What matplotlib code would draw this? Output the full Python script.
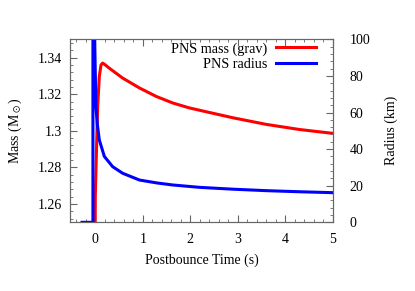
import matplotlib.pyplot as plt
from matplotlib.ticker import MultipleLocator

plt.rcParams['font.family'] = ['Liberation Serif', 'DejaVu Serif']
plt.rcParams['mathtext.fontset'] = 'stix'
plt.rcParams['font.size'] = 10

# PNS gravitational mass (Msun) vs postbounce time (s)
t_mass = [-0.3, -0.01, 0.0, 0.03, 0.05, 0.084, 0.12, 0.154, 0.2, 0.295, 0.576, 0.93,
          1.28, 1.63, 1.98, 2.37, 2.9, 3.6, 4.3, 5.0]
mass = [1.20, 1.20, 1.2645, 1.295, 1.3134, 1.3297, 1.336, 1.337, 1.3362, 1.3342,
        1.3288, 1.3234, 1.3188, 1.3152, 1.3125, 1.3102, 1.3071, 1.3035, 1.3007, 1.2986]

# PNS radius (km)
t_rad = [-0.28, -0.05, -0.05, -0.02, 0.0, 0.014, 0.04, 0.084, 0.19, 0.365, 0.576,
         0.93, 1.3, 1.63, 2.2, 2.9, 3.6, 4.3, 5.0]
radius = [0, 0, 150, 110, 81, 63, 54, 45, 36, 30.4, 26.8,
          23.1, 21.5, 20.4, 19.1, 18.1, 17.3, 16.7, 16.2]

fig = plt.figure(figsize=(4.15, 2.91), dpi=100)
ax = fig.add_axes([0.169, 0.236, 0.633, 0.629])
ax2 = ax.twinx()

l1, = ax.plot(t_mass, mass, color='#ff0000', lw=2.2, label='PNS mass (grav)')
l2, = ax2.plot(t_rad, radius, color='#0000ff', lw=2.2, label='PNS radius')

ax.set_xlim(-0.53, 5)
ax.set_ylim(1.25, 1.35)
ax2.set_ylim(0, 100)

ax.set_xticks([0, 1, 2, 3, 4, 5])
ax.set_yticks([1.26, 1.28, 1.3, 1.32, 1.34])
ax.set_yticklabels(['1.26', '1.28', '1.3', '1.32', '1.34'])
ax.xaxis.set_minor_locator(MultipleLocator(0.2))
ax.yaxis.set_minor_locator(MultipleLocator(0.004))
ax2.set_yticks([0, 20, 40, 60, 80, 100])
ax2.yaxis.set_minor_locator(MultipleLocator(4))

spine_col = '#666666'
for a in (ax, ax2):
    for s in a.spines.values():
        s.set_color(spine_col)
ax.tick_params(which='both', direction='in', top=True, right=False, color=spine_col)
ax.tick_params(which='major', length=5)
ax.tick_params(which='minor', length=2.5)
ax2.tick_params(which='both', direction='in', color=spine_col)
ax2.tick_params(which='major', length=5)
ax2.tick_params(which='minor', length=2.5)
ax.tick_params(axis='y', pad=6)
ax2.tick_params(axis='y', pad=12)
ax.tick_params(axis='x', pad=8)

ax.set_xlabel('Postbounce Time (s)', labelpad=5)
ax.set_ylabel(r'Mass (M$_\odot$)', labelpad=10)
ax2.set_ylabel('Radius (km)', labelpad=10)

ax2.legend([l1, l2], ['PNS mass (grav)', 'PNS radius'], loc='upper right',
           bbox_to_anchor=(0.935, 0.985), frameon=False, markerfirst=False,
           handlelength=2.8, borderaxespad=0, borderpad=0,
           labelspacing=0.15, handletextpad=0.65, fontsize=10.2)

fig.savefig('out.png', dpi=100)
